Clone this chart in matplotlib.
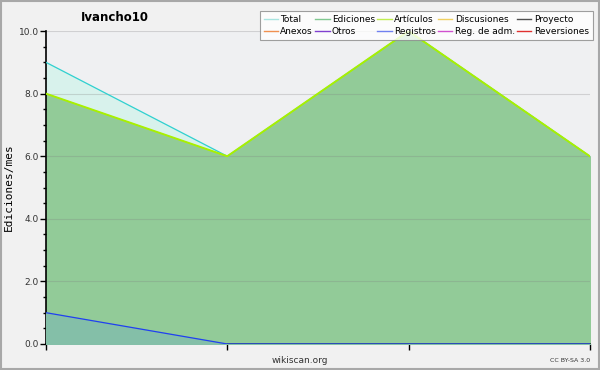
import matplotlib
matplotlib.use("Agg")
import matplotlib.pyplot as plt
from matplotlib.patches import Rectangle
from matplotlib.lines import Line2D

# monthly edit counts for Ivancho10 (4 months)
months = [0, 1, 2, 3]
total = [9, 6, 10, 6]
ediciones = [8, 6, 10, 6]
articulos = [8, 6, 10, 6]
registros = [1, 0, 0, 0]

legend_names = ["Total", "Ediciones", "Artículos", "Discusiones", "Proyecto",
                "Anexos", "Otros", "Registros", "Reg. de adm.", "Reversiones"]
legend_colors = ["#a8e4e0", "#80c890", "#c0ee50", "#f0d060", "#505050",
                 "#f09050", "#8040d0", "#7080f0", "#d050d0", "#e03030"]

plt.rcParams["font.family"] = "DejaVu Sans"
fig = plt.figure(figsize=(6, 3.7), dpi=100, facecolor="#f1f1f1")
fig.patches.append(Rectangle((0.002, 0.003), 0.996, 0.994, transform=fig.transFigure,
                             fill=False, edgecolor="#a8a8a8", linewidth=1.5))
ax = fig.add_axes([0.0767, 0.0703, 0.9063, 0.8457])
ax.set_facecolor("#eff0f2")

ax.fill_between(months, total, color="#d8f2ec", zorder=1)
ax.plot(months, total, color="#30d0d0", lw=0.9, zorder=4)
ax.fill_between(months, ediciones, color="#92cb98", zorder=2)
ax.fill_between(months, registros, color="#84bfa8", zorder=3)
ax.plot(months, articulos, color="#a8f000", lw=1.4, zorder=5)
ax.plot(months, registros, color="#2040f0", lw=0.9, zorder=6)

ax.set_xlim(0, 3)
ax.set_ylim(0, 10)
ax.set_yticks([0, 2, 4, 6, 8, 10])
ax.set_yticklabels(["0.0", "2.0", "4.0", "6.0", "8.0", "10.0"], fontsize=6.5, color="#333333")
ax.set_yticks([i * 0.5 for i in range(21)], minor=True)
ax.set_xticks(months)
ax.set_xticklabels([])
ax.tick_params(axis="y", which="major", length=4, width=1, pad=1)
ax.tick_params(axis="y", which="minor", length=2.5, width=1)
ax.tick_params(axis="x", length=4, width=1)
ax.grid(axis="y", color="#808080", alpha=0.28, lw=0.8)
ax.set_axisbelow(False)
for line in ax.get_ygridlines():
    line.set_zorder(3.5)
for s in ["top", "right"]:
    ax.spines[s].set_visible(False)
ax.spines["left"].set_linewidth(1.2)
ax.spines["bottom"].set_linewidth(1.2)
ax.set_ylabel("Ediciones/mes", fontsize=8, family="DejaVu Sans Mono", labelpad=4)

fig.text(0.192, 0.953, "Ivancho10", fontsize=8.5, fontweight="bold", ha="center", va="center")
fig.text(0.5, 0.025, "wikiscan.org", fontsize=6.5, ha="center", va="center", color="#333333")
fig.text(0.983, 0.025, "CC BY-SA 3.0", fontsize=4.5, ha="right", va="center", color="#333333")

handles = [Line2D([0], [0], color=c, lw=1) for c in legend_colors]
order = [0, 5, 1, 6, 2, 7, 3, 8, 4, 9]
leg = fig.legend([handles[i] for i in order], [legend_names[i] for i in order],
                 ncol=5, loc="upper right", bbox_to_anchor=(0.988, 0.97),
                 fontsize=6.5, frameon=True, fancybox=False, handlelength=1.6,
                 handletextpad=0.25, columnspacing=0.25, labelspacing=0.3,
                 borderpad=0.45, borderaxespad=0)
leg.get_frame().set_edgecolor("#888888")
leg.get_frame().set_facecolor("white")
leg.get_frame().set_linewidth(0.8)

fig.savefig("out.png", dpi=100, facecolor=fig.get_facecolor())
